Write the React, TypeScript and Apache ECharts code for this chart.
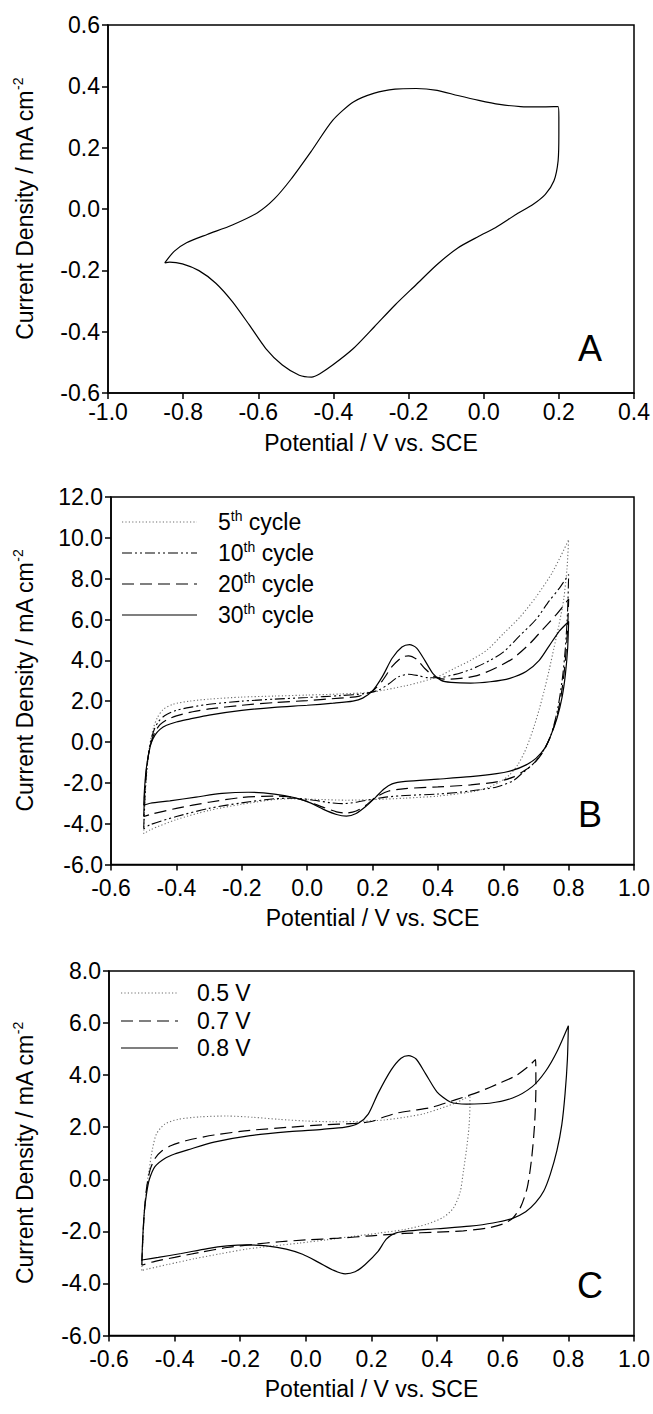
import React, { useEffect, useRef } from "react";
import * as echarts from "echarts";

// ---------- DATA ----------
// Panel A: single CV loop (Potential V vs SCE, Current density mA cm^-2)
const cvA: number[][] = [
  [-0.849, -0.176], [-0.824, -0.138], [-0.791, -0.110], [-0.736, -0.083], [-0.669, -0.052],
  [-0.602, -0.012], [-0.558, 0.032], [-0.513, 0.097], [-0.458, 0.190], [-0.402, 0.289],
  [-0.347, 0.349], [-0.291, 0.378], [-0.236, 0.391], [-0.180, 0.393], [-0.124, 0.387],
  [-0.069, 0.370], [-0.013, 0.354], [0.042, 0.341], [0.098, 0.334], [0.153, 0.333],
  [0.198, 0.334], [0.200, 0.300], [0.200, 0.245], [0.198, 0.157], [0.187, 0.092],
  [0.164, 0.048], [0.131, 0.015], [0.087, -0.017], [0.031, -0.061], [-0.013, -0.089],
  [-0.069, -0.127], [-0.124, -0.181], [-0.180, -0.247], [-0.236, -0.313], [-0.291, -0.384],
  [-0.347, -0.455], [-0.402, -0.509], [-0.436, -0.537], [-0.458, -0.548], [-0.491, -0.542],
  [-0.536, -0.509], [-0.580, -0.455], [-0.624, -0.378], [-0.669, -0.302], [-0.713, -0.242],
  [-0.758, -0.201], [-0.802, -0.179], [-0.836, -0.173], [-0.849, -0.176],
];

// Panel B: cycles 5, 10, 20, 30
const cycleNumbers = [5, 10, 20, 30];
const cvB5: number[][] = [
  [-0.5, -4.5], [-0.497, -3.2], [-0.493, -2.0], [-0.487, -0.9], [-0.48, 0.0], [-0.47, 0.7],
  [-0.458, 1.2], [-0.44, 1.6], [-0.41, 1.85], [-0.36, 2.0], [-0.3, 2.1], [-0.2, 2.2],
  [-0.1, 2.25], [0.0, 2.3], [0.1, 2.35], [0.2, 2.45], [0.3, 2.75], [0.35, 2.95], [0.4, 3.2],
  [0.45, 3.6], [0.5, 4.0], [0.55, 4.5], [0.6, 5.3], [0.65, 6.1], [0.7, 7.1], [0.75, 8.3],
  [0.8, 9.9],
  [0.795, 8.5], [0.785, 7.0], [0.77, 5.7], [0.755, 4.6], [0.74, 3.5], [0.725, 2.5],
  [0.71, 1.6], [0.695, 0.8], [0.68, 0.1], [0.665, -0.5], [0.645, -1.1], [0.62, -1.6],
  [0.59, -1.95], [0.55, -2.25], [0.5, -2.45], [0.4, -2.65], [0.3, -2.75], [0.2, -2.82],
  [0.12, -2.85], [0.05, -2.82], [0.0, -2.8], [-0.05, -2.78], [-0.1, -2.82], [-0.2, -3.05],
  [-0.3, -3.35], [-0.4, -3.8], [-0.48, -4.3], [-0.5, -4.5],
];
const cvB10: number[][] = [
  [-0.5, -4.25], [-0.497, -3.0], [-0.493, -1.8], [-0.487, -0.8], [-0.479, 0.0], [-0.468, 0.6],
  [-0.455, 1.0], [-0.435, 1.3], [-0.4, 1.55], [-0.35, 1.72], [-0.3, 1.85], [-0.2, 2.0],
  [-0.1, 2.1], [0.0, 2.18], [0.1, 2.27], [0.18, 2.38], [0.22, 2.55], [0.25, 2.85],
  [0.28, 3.2], [0.31, 3.32], [0.34, 3.25], [0.37, 3.15], [0.4, 3.15], [0.45, 3.3],
  [0.5, 3.55], [0.56, 4.0], [0.6, 4.4], [0.65, 5.2], [0.7, 6.0], [0.74, 6.9], [0.77, 7.5],
  [0.8, 8.2],
  [0.797, 6.5], [0.79, 4.6], [0.78, 3.0], [0.765, 1.5], [0.745, 0.3], [0.72, -0.5],
  [0.69, -1.1], [0.66, -1.5], [0.63, -1.9], [0.58, -2.2], [0.5, -2.4], [0.4, -2.55],
  [0.3, -2.62], [0.24, -2.7], [0.2, -2.8], [0.15, -2.95], [0.11, -3.02], [0.07, -2.97],
  [0.02, -2.85], [-0.04, -2.75], [-0.1, -2.78], [-0.2, -2.98], [-0.3, -3.25], [-0.4, -3.65],
  [-0.48, -4.05], [-0.5, -4.25],
];
const cvB20: number[][] = [
  [-0.5, -3.65], [-0.497, -2.5], [-0.492, -1.4], [-0.485, -0.6], [-0.477, 0.0], [-0.465, 0.5],
  [-0.45, 0.85], [-0.43, 1.08], [-0.4, 1.28], [-0.35, 1.48], [-0.3, 1.62], [-0.2, 1.8],
  [-0.1, 1.93], [0.0, 2.03], [0.1, 2.15], [0.16, 2.25], [0.2, 2.5], [0.23, 3.0], [0.26, 3.7],
  [0.29, 4.15], [0.31, 4.22], [0.335, 4.05], [0.36, 3.6], [0.39, 3.2], [0.42, 3.08],
  [0.46, 3.1], [0.52, 3.25], [0.58, 3.65], [0.63, 4.1], [0.68, 4.8], [0.72, 5.5], [0.76, 6.2],
  [0.8, 7.0],
  [0.797, 5.6], [0.79, 4.0], [0.78, 2.6], [0.765, 1.3], [0.745, 0.3], [0.725, -0.4],
  [0.7, -0.95], [0.67, -1.35], [0.63, -1.72], [0.58, -1.95], [0.5, -2.1], [0.4, -2.2],
  [0.3, -2.28], [0.25, -2.4], [0.21, -2.7], [0.18, -3.1], [0.15, -3.38], [0.12, -3.48],
  [0.09, -3.42], [0.05, -3.2], [0.0, -2.9], [-0.05, -2.7], [-0.1, -2.65], [-0.2, -2.72],
  [-0.3, -2.95], [-0.4, -3.25], [-0.48, -3.55], [-0.5, -3.65],
];
const cvB30: number[][] = [
  [-0.5, -3.1], [-0.497, -2.2], [-0.492, -1.3], [-0.485, -0.6], [-0.477, -0.05], [-0.465, 0.35],
  [-0.45, 0.62], [-0.43, 0.82], [-0.4, 0.98], [-0.36, 1.12], [-0.3, 1.32], [-0.2, 1.55],
  [-0.1, 1.7], [0.0, 1.8], [0.08, 1.9], [0.14, 2.0], [0.17, 2.15], [0.2, 2.5], [0.23, 3.2],
  [0.26, 4.1], [0.29, 4.65], [0.313, 4.77], [0.335, 4.6], [0.36, 4.0], [0.385, 3.35],
  [0.41, 3.02], [0.44, 2.92], [0.5, 2.88], [0.56, 2.95], [0.62, 3.12], [0.67, 3.45],
  [0.71, 4.0], [0.74, 4.7], [0.77, 5.4], [0.8, 5.9],
  [0.797, 4.6], [0.79, 3.3], [0.78, 2.2], [0.765, 1.2], [0.745, 0.3], [0.725, -0.35],
  [0.7, -0.8], [0.67, -1.12], [0.63, -1.38], [0.58, -1.55], [0.5, -1.7], [0.4, -1.82],
  [0.3, -1.93], [0.26, -2.05], [0.235, -2.3], [0.21, -2.7], [0.18, -3.15], [0.15, -3.5],
  [0.12, -3.63], [0.09, -3.55], [0.05, -3.3], [0.01, -2.98], [-0.04, -2.72], [-0.1, -2.55],
  [-0.18, -2.46], [-0.26, -2.52], [-0.34, -2.7], [-0.42, -2.88], [-0.48, -3.0], [-0.5, -3.1],
];

// Panel C: switching potentials
const switchLabels = ["0.5 V", "0.7 V", "0.8 V"];
const cvC05: number[][] = [
  [-0.5, -3.5], [-0.497, -2.4], [-0.493, -1.4], [-0.487, -0.5], [-0.478, 0.35], [-0.467, 1.2],
  [-0.455, 1.75], [-0.43, 2.12], [-0.39, 2.3], [-0.32, 2.4], [-0.24, 2.43], [-0.16, 2.38],
  [-0.08, 2.3], [0.0, 2.24], [0.08, 2.21], [0.16, 2.22], [0.24, 2.28], [0.3, 2.38],
  [0.36, 2.52], [0.41, 2.72], [0.45, 2.9], [0.48, 3.08], [0.5, 3.22],
  [0.5, 2.8], [0.497, 2.0], [0.49, 1.2], [0.48, 0.3], [0.47, -0.5], [0.45, -1.1],
  [0.42, -1.45], [0.37, -1.72], [0.3, -1.93], [0.22, -2.07], [0.14, -2.2], [0.06, -2.33],
  [-0.02, -2.45], [-0.1, -2.56], [-0.18, -2.68], [-0.26, -2.86], [-0.34, -3.05],
  [-0.42, -3.27], [-0.48, -3.44], [-0.5, -3.5],
];
const cvC07: number[][] = [
  [-0.5, -3.3], [-0.497, -2.3], [-0.492, -1.2], [-0.485, -0.3], [-0.475, 0.35], [-0.46, 0.8],
  [-0.44, 1.08], [-0.41, 1.3], [-0.36, 1.5], [-0.28, 1.7], [-0.17, 1.88], [-0.05, 2.0],
  [0.05, 2.09], [0.15, 2.15], [0.2, 2.22], [0.24, 2.4], [0.28, 2.55], [0.33, 2.65],
  [0.38, 2.75], [0.43, 2.95], [0.48, 3.15], [0.53, 3.37], [0.59, 3.69], [0.64, 3.98],
  [0.675, 4.3], [0.7, 4.6],
  [0.701, 3.5], [0.697, 2.1], [0.688, 0.8], [0.675, -0.3], [0.655, -1.05], [0.63, -1.5],
  [0.6, -1.72], [0.55, -1.88], [0.48, -1.98], [0.4, -2.03], [0.3, -2.08], [0.2, -2.17],
  [0.1, -2.26], [0.0, -2.33], [-0.08, -2.4], [-0.16, -2.5], [-0.24, -2.62], [-0.32, -2.8],
  [-0.4, -3.0], [-0.46, -3.15], [-0.5, -3.3],
];
const cvC08: number[][] = [
  [-0.5, -3.15], [-0.497, -2.2], [-0.492, -1.2], [-0.485, -0.5], [-0.477, 0.0], [-0.46, 0.49],
  [-0.43, 0.8], [-0.4, 0.97], [-0.36, 1.13], [-0.28, 1.43], [-0.17, 1.68], [-0.05, 1.83],
  [0.05, 1.92], [0.12, 2.0], [0.16, 2.15], [0.19, 2.5], [0.22, 3.3], [0.26, 4.2], [0.29, 4.65],
  [0.313, 4.75], [0.336, 4.62], [0.365, 4.05], [0.4, 3.35], [0.44, 2.97], [0.49, 2.89],
  [0.56, 2.92], [0.63, 3.12], [0.69, 3.56], [0.73, 4.14], [0.765, 4.9], [0.8, 5.9],
  [0.797, 4.6], [0.79, 3.3], [0.78, 2.1], [0.765, 1.1], [0.745, 0.2], [0.725, -0.45],
  [0.7, -0.9], [0.67, -1.25], [0.63, -1.5], [0.57, -1.68], [0.5, -1.8], [0.4, -1.9],
  [0.3, -2.0], [0.27, -2.08], [0.245, -2.3], [0.22, -2.77], [0.18, -3.28], [0.15, -3.55],
  [0.12, -3.63], [0.085, -3.5], [0.04, -3.2], [-0.01, -2.88], [-0.06, -2.68], [-0.12, -2.56],
  [-0.18, -2.52], [-0.24, -2.56], [-0.3, -2.66], [-0.38, -2.85], [-0.45, -3.0], [-0.5, -3.1],
];

const xTitle = "Potential / V vs. SCE";
const yTitle = "Current Density / mA cm{sup|-2}";
const panelLetters = ["A", "B", "C"];

// ---------- STYLE ----------
const FONT = "Liberation Sans, Arial, Helvetica, sans-serif";
const BLACK = "#000";
const DOT_COLOR = "#6e6e6e";
const DASH = [12, 6];
const DASH_DOT = [10, 3, 2, 3, 2, 3];
const DOT = [1.2, 2.2];
const FS = 23;

const grids = [
  { left: 108, top: 25, width: 526, height: 368 },
  { left: 111, top: 497, width: 526, height: 367.5 },
  { left: 109, top: 971, width: 525, height: 364.5 },
];

const fmt = (v: number) => (Math.abs(v) < 1e-9 ? "0.0" : v.toFixed(1));

function makeX(gridIndex: number, min: number, max: number, labelMargin: number, nameGap: number) {
  return {
    type: "value",
    gridIndex,
    min,
    max,
    interval: 0.2,
    name: xTitle,
    nameLocation: "middle",
    nameGap,
    nameTextStyle: { fontFamily: FONT, fontSize: FS, color: BLACK },
    axisLine: { show: true, onZero: false, lineStyle: { color: BLACK, width: 1.5 } },
    axisTick: { show: true, inside: false, length: 6, lineStyle: { color: BLACK, width: 1.5 } },
    axisLabel: { formatter: fmt, fontFamily: FONT, fontSize: FS, color: BLACK, margin: labelMargin },
    splitLine: { show: false },
  };
}

function makeY(gridIndex: number, min: number, max: number, interval: number, nameGap: number) {
  return {
    type: "value",
    gridIndex,
    min,
    max,
    interval,
    name: yTitle,
    nameLocation: "middle",
    nameGap,
    nameTextStyle: {
      fontFamily: FONT,
      fontSize: FS,
      color: BLACK,
      lineHeight: 27,
      rich: {
        sup: { fontFamily: FONT, fontSize: 14, color: BLACK, verticalAlign: "top", lineHeight: 14 },
      },
    },
    axisLine: { show: true, onZero: false, lineStyle: { color: BLACK, width: 1.5 } },
    axisTick: { show: true, inside: false, length: 6, lineStyle: { color: BLACK, width: 1.5 } },
    axisLabel: { formatter: fmt, fontFamily: FONT, fontSize: FS, color: BLACK, margin: 8 },
    splitLine: { show: false },
  };
}

function lineSeries(name: string, data: number[][], idx: number, type: any, color: string, width: number) {
  return {
    name,
    type: "line",
    xAxisIndex: idx,
    yAxisIndex: idx,
    data,
    showSymbol: false,
    symbol: "none",
    smooth: 0.25,
    lineStyle: { color, width, type },
    z: 3,
  };
}

function legendItems(
  labels: string[],
  styles: { dash: any; color: string; width: number }[],
  x1: number,
  x2: number,
  textX: number,
  rowsY: number[]
) {
  const out: any[] = [];
  labels.forEach((lab, i) => {
    const st = styles[i];
    out.push({
      type: "line",
      shape: { x1, y1: rowsY[i], x2, y2: rowsY[i] },
      style: { stroke: st.color, lineWidth: st.width, lineDash: st.dash === "solid" ? null : st.dash },
      z: 10,
    });
    out.push({
      type: "text",
      x: textX,
      y: rowsY[i],
      style: {
        text: lab,
        fill: BLACK,
        fontFamily: FONT,
        fontSize: FS,
        lineHeight: 27,
        verticalAlign: "middle",
        align: "left",
        rich: {
          sup: { fontFamily: FONT, fontSize: 14, fill: BLACK, verticalAlign: "top", lineHeight: 14 },
        },
      },
      z: 10,
    });
  });
  return out;
}

export default function App() {
  const ref = useRef<HTMLDivElement>(null);
  useEffect(() => {
    if (!ref.current) return;
    const chart = echarts.init(ref.current, null, { renderer: "svg" });

    const bStyles = [
      { dash: DOT, color: DOT_COLOR, width: 1.1 },
      { dash: DASH_DOT, color: BLACK, width: 1.1 },
      { dash: DASH, color: BLACK, width: 1.2 },
      { dash: "solid", color: BLACK, width: 1.2 },
    ];
    const cStyles = [
      { dash: DOT, color: DOT_COLOR, width: 1.1 },
      { dash: DASH, color: BLACK, width: 1.2 },
      { dash: "solid", color: BLACK, width: 1.2 },
    ];
    const bLabels = cycleNumbers.map((n) => `${n}{sup|th} cycle`);
    const bData = [cvB5, cvB10, cvB20, cvB30];
    const cData = [cvC05, cvC07, cvC08];

    const series: any[] = [lineSeries("A", cvA, 0, "solid", BLACK, 1.2)];
    bData.forEach((d, i) =>
      series.push(lineSeries(`${cycleNumbers[i]}th cycle`, d, 1, bStyles[i].dash, bStyles[i].color, bStyles[i].width))
    );
    cData.forEach((d, i) =>
      series.push(lineSeries(switchLabels[i], d, 2, cStyles[i].dash, cStyles[i].color, cStyles[i].width))
    );

    const letterPos = [
      { x: 590, y: 348 },
      { x: 590, y: 814 },
      { x: 590, y: 1285 },
    ];

    const graphic: any[] = [
      ...legendItems(bLabels, bStyles, 122, 197, 218, [522, 553, 584, 615]),
      ...legendItems(switchLabels, cStyles, 121, 178, 197, [993, 1021, 1048]),
      ...panelLetters.map((t, i) => ({
        type: "text",
        x: letterPos[i].x,
        y: letterPos[i].y,
        style: {
          text: t,
          fill: BLACK,
          fontFamily: FONT,
          fontSize: 36,
          align: "center",
          verticalAlign: "middle",
        },
        z: 10,
      })),
    ];

    chart.setOption({
      animation: false,
      backgroundColor: "#fff",
      grid: grids.map((g) => ({ ...g, show: true, borderColor: BLACK, borderWidth: 1.5, backgroundColor: "transparent" })),
      xAxis: [
        makeX(0, -1.0, 0.4, 7, 38),
        makeX(1, -0.6, 1.0, 12, 42),
        makeX(2, -0.6, 1.0, 12, 42),
      ],
      yAxis: [
        makeY(0, -0.6, 0.6, 0.2, 70),
        makeY(1, -6, 12, 2, 73),
        makeY(2, -6, 8, 2, 71),
      ],
      series,
      graphic,
    });
    return () => chart.dispose();
  }, []);

  return (
    <div
      ref={ref}
      style={{ position: "absolute", left: 0, top: 0, width: 653, height: 1414, background: "#fff" }}
    />
  );
}
